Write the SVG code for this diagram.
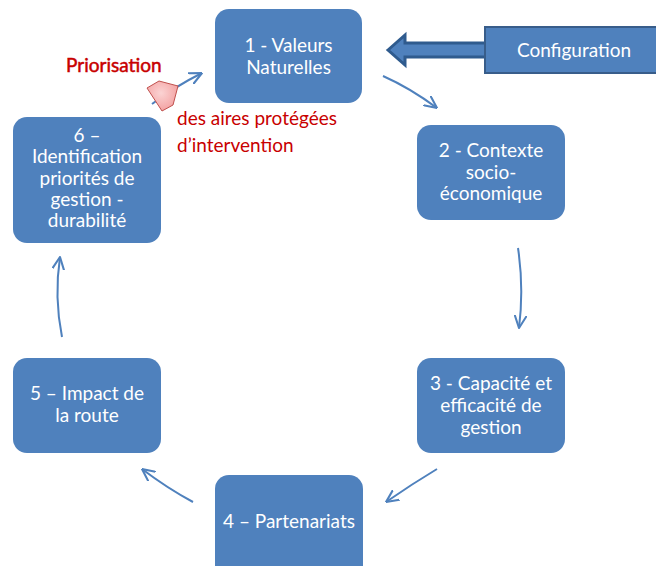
<svg xmlns="http://www.w3.org/2000/svg" width="656" height="566" viewBox="0 0 656 566">
<defs>
<style>
.node{fill:#4F81BD;stroke:none}
.lbl{font-family:Lato,"Liberation Sans",sans-serif;font-size:19px;fill:#FFFFFF;text-anchor:middle}
.red{font-family:Lato,"Liberation Sans",sans-serif;font-size:19px;fill:#C80000}
.con{fill:none;stroke:#4F81BD;stroke-width:2;marker-end:url(#ah)}
</style>
<marker id="ah" viewBox="0 0 10 10" refX="9.5" refY="5" markerWidth="13" markerHeight="13" markerUnits="userSpaceOnUse" orient="auto">
<path d="M0,0.5 L9.5,5 L0,9.5" fill="none" stroke="#4F81BD" stroke-width="1.6" stroke-linecap="round" stroke-linejoin="round"/>
</marker>
<radialGradient id="pink" cx="0.45" cy="0.4" r="0.7">
<stop offset="0" stop-color="#FBD3D3"/>
<stop offset="1" stop-color="#F29A9A"/>
</radialGradient>
</defs>
<rect width="656" height="566" fill="#FFFFFF"/>

<g id="connectors">
<path class="con" d="M383,76 Q410,88 437,108"/>
<path class="con" d="M518,248 Q524,288 519,328"/>
<path class="con" d="M437,469 Q412,484 386,502"/>
<path class="con" d="M193,502 Q167,488 142,469"/>
<path class="con" d="M62,337 Q54,297 60,257"/>
<path class="con" d="M152,104 Q176,86 202,73"/>
</g>

<g id="config-arrow">
<polygon points="388,50 405,35 405,43 490,43 490,57 405,57 405,65" fill="#4F81BD" stroke="#2F5B8E" stroke-width="3" stroke-linejoin="miter"/>
</g>

<g id="configuration">
<rect x="485" y="27" width="180" height="46" fill="#4F81BD" stroke="#385D8A" stroke-width="2"/>
<text class="lbl" x="574" y="57">Configuration</text>
</g>

<g id="node1">
<rect class="node" x="215" y="9" width="147" height="94" rx="14"/>
<text class="lbl" x="288.5" y="52">1 - Valeurs</text>
<text class="lbl" x="288.5" y="74">Naturelles</text>
</g>

<g id="node2">
<rect class="node" x="417" y="125" width="148" height="95" rx="14"/>
<text class="lbl" x="491" y="157">2 - Contexte</text>
<text class="lbl" x="491" y="179">socio-</text>
<text class="lbl" x="491" y="200">économique</text>
</g>

<g id="node3">
<rect class="node" x="417" y="358" width="148" height="95" rx="14"/>
<text class="lbl" x="491" y="390">3 - Capacité et</text>
<text class="lbl" x="491" y="412">efficacité de</text>
<text class="lbl" x="491" y="434">gestion</text>
</g>

<g id="node4">
<rect class="node" x="215" y="475" width="148" height="110" rx="14"/>
<text class="lbl" x="289" y="528">4 – Partenariats</text>
</g>

<g id="node5">
<rect class="node" x="13" y="358" width="148" height="95" rx="14"/>
<text class="lbl" x="87" y="400">5 – Impact de</text>
<text class="lbl" x="87" y="422">la route</text>
</g>

<g id="node6">
<rect class="node" x="13" y="117" width="148" height="126" rx="14"/>
<text class="lbl" x="87" y="142">6 –</text>
<text class="lbl" x="87" y="163">Identification</text>
<text class="lbl" x="87" y="185">priorités de</text>
<text class="lbl" x="87" y="206">gestion -</text>
<text class="lbl" x="87" y="227">durabilité</text>
</g>

<g id="priorisation">
<polygon points="147,88 159,81 178,86 173,105 162,111" fill="url(#pink)" stroke="#C0504D" stroke-width="1"/>
<text class="red" x="66" y="72" stroke="#C80000" stroke-width="0.5">Priorisation</text>
<text class="red" x="177" y="125">des aires protégées</text>
<text class="red" x="177" y="152">d’intervention</text>
</g>
</svg>
